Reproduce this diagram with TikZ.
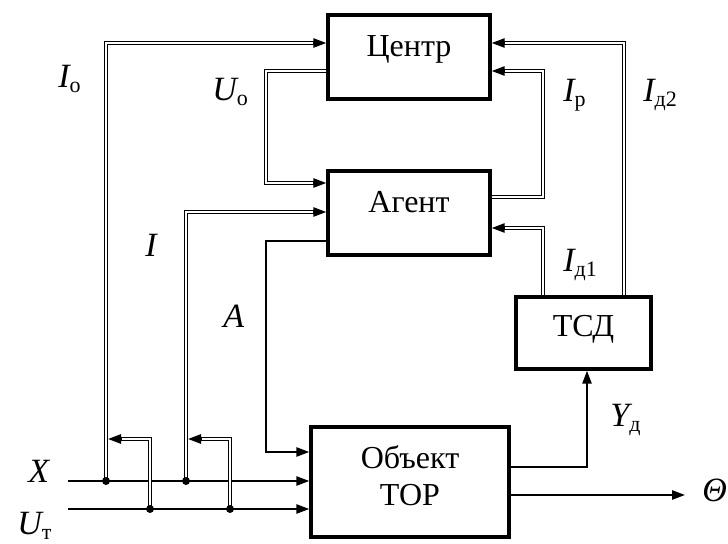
\documentclass[tikz,border=0pt]{standalone}
\usepackage{fontspec}
\setmainfont{Liberation Serif}
\usetikzlibrary{arrows.meta,calc}
\newcommand{\lsub}[1]{\raisebox{-2.5pt}{\upshape\fontsize{11}{11}\selectfont #1}}
\begin{document}
\begin{tikzpicture}[x=0.5pt,y=-0.5pt,
  box/.style={draw, line width=1.7pt, inner sep=0pt, font=\fontsize{16}{18.5}\selectfont},
  dbl/.style={draw, line width=0.6pt, double distance=0.9pt, shorten >=5pt},
  arr/.style={draw, line width=1pt, -{Triangle[length=6.5pt,width=4.6pt]}},
  lab/.style={anchor=base west, inner sep=0pt, font=\fontsize{17}{19}\selectfont\itshape},
  dot/.style={circle, fill, inner sep=0pt, minimum size=4pt}]
\useasboundingbox (0,0) rectangle (728,544);

% boxes
\node[box, minimum width=81pt, minimum height=42pt, text height=6pt, text depth=6pt] (centre) at (409,57) {Центр};
\node[box, minimum width=81pt, minimum height=42pt, text height=6pt, text depth=6pt] (agent) at (409,213) {Агент};
\node[box, minimum width=67.5pt, minimum height=36pt, text height=8pt, text depth=4pt] (tsd) at (583.5,333) {ТСД};
\node[box, minimum width=99pt, minimum height=55pt, align=center, text height=26pt, text depth=2pt] (obj) at (410,482) {Объект\\ТОР};

% input lines
\coordinate (xs) at (68,481);
\coordinate (us) at (68,509);
\coordinate (dx1) at (106,481);
\coordinate (dx2) at (186,481);
\coordinate (du1) at (150,509);
\coordinate (du2) at (230,509);
\draw[arr] (xs) -- (obj.west |- xs);
\draw[arr] (us) -- (obj.west |- us);

% I_o
\coordinate (io) at (106,43);
\coordinate (ioe) at (centre.west |- io);
\draw[dbl] (dx1) -- (io) -- (ioe);
\draw[arr] ($(ioe)+(-13,0)$) -- (ioe);

% small feedback arrows
\coordinate (s1) at (150,439);
\coordinate (s1e) at (108,439);
\draw[dbl] (du1) -- (s1) -- (s1e);
\draw[arr] ($(s1e)+(13,0)$) -- (s1e);
\coordinate (s2) at (230,439);
\coordinate (s2e) at (188,439);
\draw[dbl] (du2) -- (s2) -- (s2e);
\draw[arr] ($(s2e)+(13,0)$) -- (s2e);

% I
\coordinate (ii) at (186,212);
\coordinate (iie) at (agent.west |- ii);
\draw[dbl] (dx2) -- (ii) -- (iie);
\draw[arr] ($(iie)+(-13,0)$) -- (iie);

% U_o
\coordinate (uo1) at (266,71);
\coordinate (uo2) at (266,183);
\coordinate (uoe) at (agent.west |- uo2);
\draw[dbl] (centre.west |- uo1) -- (uo1) -- (uo2) -- (uoe);
\draw[arr] ($(uoe)+(-13,0)$) -- (uoe);

% A
\coordinate (a1) at (266,241);
\coordinate (a2) at (266,452);
\draw[arr] (agent.west |- a1) -- (a1) -- (a2) -- (obj.west |- a2);

% I_p
\coordinate (ip1) at (543,197);
\coordinate (ip2) at (543,71);
\coordinate (ipe) at (centre.east |- ip2);
\draw[dbl] (agent.east |- ip1) -- (ip1) -- (ip2) -- (ipe);
\draw[arr] ($(ipe)+(13,0)$) -- (ipe);

% I_d1
\coordinate (id1) at (543,228);
\coordinate (id1e) at (agent.east |- id1);
\draw[dbl] (tsd.north -| id1) -- (id1) -- (id1e);
\draw[arr] ($(id1e)+(13,0)$) -- (id1e);

% I_d2
\coordinate (id2) at (624,43);
\coordinate (id2e) at (centre.east |- id2);
\draw[dbl] (tsd.north -| id2) -- (id2) -- (id2e);
\draw[arr] ($(id2e)+(13,0)$) -- (id2e);

% Y_d
\coordinate (y1) at (587,467);
\draw[arr] (obj.east |- y1) -- (y1) -- (tsd.south -| y1);

% Theta
\coordinate (th) at (685,495);
\draw[arr] (obj.east |- th) -- (th);

% dots
\node[dot] (d1) at (dx1) {};
\node[dot] (d2) at (dx2) {};
\node[dot] (d3) at (du1) {};
\node[dot] (d4) at (du2) {};

% labels
\node[lab] (lio) at (58,88) {I\lsub{о}};
\node[lab] (luo) at (212,101) {U\lsub{о}};
\node[lab] (lip) at (563,102) {I\lsub{р}};
\node[lab] (lid2) at (643,102) {I\lsub{д2}};
\node[lab] (li) at (145,257) {I};
\node[lab] (la) at (223,328) {A};
\node[lab] (lid1) at (563,272) {I\lsub{д1}};
\node[lab] (lyd) at (610,427) {Y\lsub{д}};
\node[lab] (lx) at (28,483) {X};
\node[lab] (lut) at (17,535) {U\lsub{т}};
\node[lab] (lth) at (702,502) {Θ};
\end{tikzpicture}
\end{document}
